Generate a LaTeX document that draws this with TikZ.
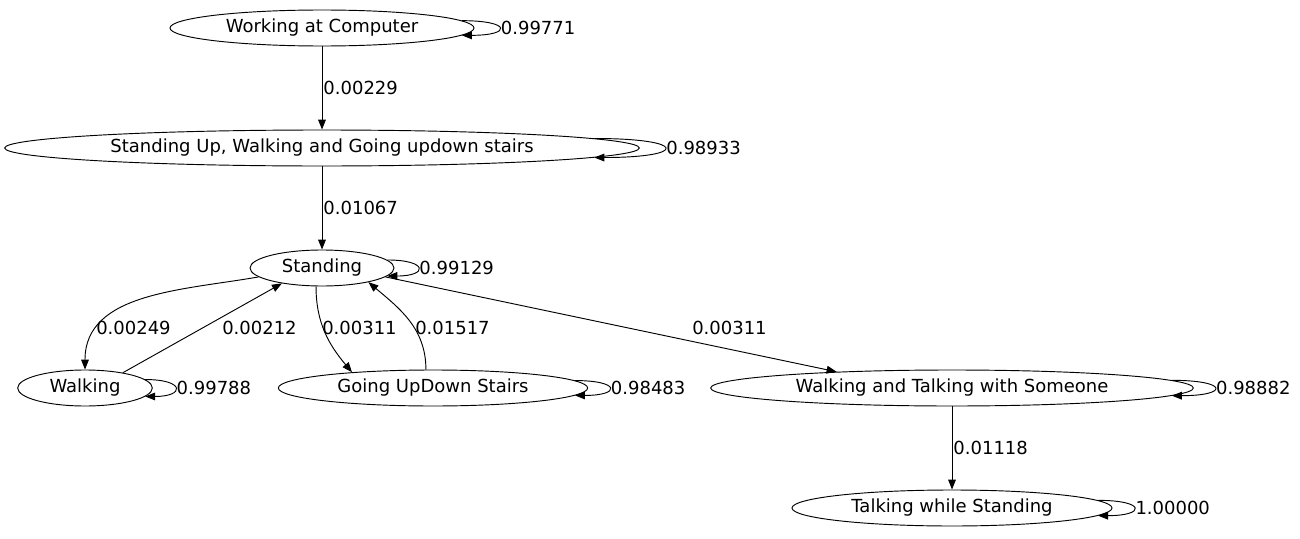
\documentclass[tikz,border=0pt]{standalone}
\usepackage{fontspec}
\setmainfont{DejaVu Sans}
\usetikzlibrary{shapes.geometric}
\usetikzlibrary{arrows.meta}

\begin{document}
\begin{tikzpicture}[x=0.75pt, y=-0.75pt,
        state/.style={draw, ellipse, line width=0.7pt, minimum height=27pt,
                      inner xsep=-15pt, inner ysep=0pt,
                      font=\fontsize{13.5}{16}\selectfont},
        prob/.style={inner sep=0.75pt, font=\fontsize{13.5}{16}\selectfont},
        arr/.style={line width=0.7pt, -{Triangle[length=7.5pt,width=5.8pt]}}]
    \useasboundingbox (0,0) rectangle (1300,539);
    % states
    \node[state, minimum width=228pt] (wc) at (322,28) {Working at Computer};
    \node[state, minimum width=476pt] (su) at (322,148) {Standing Up, Walking and Going updown stairs};
    \node[state, minimum width=108pt] (st) at (322,268) {Standing};
    \node[state, minimum width=101pt] (wa) at (85,388) {Walking};
    \node[state, minimum width=232pt] (gs) at (433,388) {Going UpDown Stairs};
    \node[state, minimum width=362pt] (wts) at (952,388) {Walking and Talking with Someone};
    \node[state, minimum width=240pt] (tws) at (952,508) {Talking while Standing};
    % transitions
    \draw[arr] (wc) -- (su) node[prob, midway, anchor=west] (p1) {0.00229};
    \draw[arr] (su) -- (st) node[prob, midway, anchor=west] (p2) {0.01067};
    \draw[arr] (st.188) to[out=190, in=90] (wa.north);
    \node[prob, anchor=west] (p3) at (95,328) {0.00249};
    \draw[arr] (wa.22) -- (st.201);
    \node[prob, anchor=west] (p4) at (221,328) {0.00212};
    \draw[arr] (st.252) to[out=270, in=130] (gs.169);
    \node[prob, anchor=west] (p5) at (321,328) {0.00311};
    \draw[arr] (gs.111) to[out=90, in=-40] (st.-17);
    \node[prob, anchor=west] (p6) at (414,328) {0.01517};
    \draw[arr] (st.-8) -- (wts.172);
    \node[prob, anchor=west] (p7) at (691,328) {0.00311};
    \draw[arr] (wts) -- (tws) node[prob, midway, anchor=west] (p8) {0.01118};
    % self loops
    \draw[arr] (wc.3) .. controls +(50,0) and +(50,0) .. (wc.-3)
        node[prob, pos=0.5, anchor=west] (l1) {0.99771};
    \draw[arr] (su.2) .. controls +(94,0) and +(94,0) .. (su.-2)
        node[prob, pos=0.5, anchor=west] (l2) {0.98933};
    \draw[arr] (st.7) .. controls +(41,0) and +(41,0) .. (st.-7)
        node[prob, pos=0.5, anchor=west] (l3) {0.99129};
    \draw[arr] (wa.8) .. controls +(40,0) and +(40,0) .. (wa.-8)
        node[prob, pos=0.5, anchor=west] (l4) {0.99788};
    \draw[arr] (gs.3) .. controls +(46,0) and +(46,0) .. (gs.-3)
        node[prob, pos=0.5, anchor=west] (l5) {0.98483};
    \draw[arr] (wts.2) .. controls +(57,0) and +(57,0) .. (wts.-2)
        node[prob, pos=0.5, anchor=west] (l6) {0.98882};
    \draw[arr] (tws.3) .. controls +(48,0) and +(48,0) .. (tws.-3)
        node[prob, pos=0.5, anchor=west] (l7) {1.00000};
\end{tikzpicture}
\end{document}
